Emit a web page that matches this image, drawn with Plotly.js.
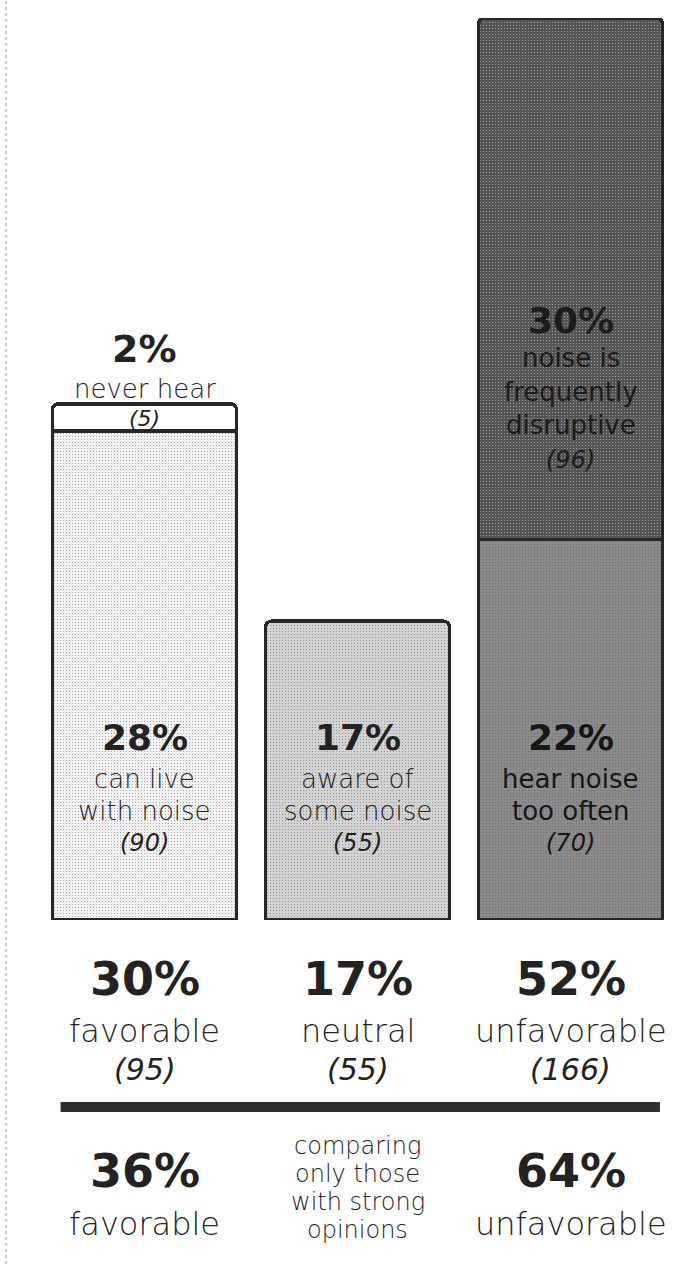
<!DOCTYPE html>
<html>
<head>
<meta charset="utf-8">
<script src="https://cdn.plot.ly/plotly-3.0.1.min.js"></script>
<style>html,body{margin:0;padding:0;background:#fff;}#chart{width:699px;height:1264px;}</style>
</head>
<body>
<div id="chart"></div>
<script>
// ---- data ----
const groups = [0, 1, 2];
const groupNames = ['favorable', 'neutral', 'unfavorable'];
const baseCounts = [90, 55, 70];
const topCounts = [5, null, 96];
const basePct = ['28%', '17%', '22%'];
const baseText = [['can live', 'with noise'], ['aware of', 'some noise'], ['hear noise', 'too often']];
const topPct = ['2%', null, '30%'];
const topText = [['never hear'], null, ['noise is', 'frequently', 'disruptive']];
const totalPct = ['30%', '17%', '52%'];
const totalCounts = [95, 55, 166];
const strongPct = ['36%', '64%'];
const strongNames = ['favorable', 'unfavorable'];
const strongNote = ['comparing', 'only those', 'with strong', 'opinions'];

// ---- styles ----
const baseColors = ['#f2f2f2', '#d3d3d3', '#8b8b8b'];
const topColors = ['#ffffff', '#d3d3d3', '#545454'];
const edge = '#272727';
const FONT = 'DejaVu Sans, Verdana, sans-serif';
const ink = '#222222';

const H = 1264, T = 18, B = 344;
const plotH = H - T - B;
const yMax = 166;
const pp = p => (H - B - p) / plotH; // pixel row -> paper fraction (for text placement)

const traces = [
  {
    type: 'bar', x: groups, y: baseCounts,
    marker: {color: baseColors, line: {color: edge, width: 3.5},
             pattern: {shape: '.', size: 3, solidity: 0.12, fgcolor: '#9a9a9a', fillmode: 'overlay'}},
    hoverinfo: 'none', cliponaxis: false
  },
  {
    type: 'bar', x: groups, y: topCounts,
    marker: {color: topColors, line: {color: edge, width: 3.5},
             pattern: {shape: ['', '', '.'], size: 3, solidity: 0.12, fgcolor: '#3a3a3a', fillmode: 'overlay'}},
    hoverinfo: 'none', cliponaxis: false
  }
];

const ann = [];
function txt(x, p, text, size, opts) {
  opts = opts || {};
  ann.push({
    x: x, y: pp(p), xref: 'x', yref: 'paper', text: text, showarrow: false,
    xanchor: 'center', yanchor: 'middle',
    font: {family: FONT, size: size, color: opts.color || ink,
           weight: opts.weight || 300, style: opts.style || 'normal'}
  });
}

// inside base segments
for (let i = 0; i < 3; i++) {
  const c = i === 2 ? '#161616' : ink;
  const w = i === 2 ? 400 : 300;
  txt(groups[i], 737, basePct[i], 36, {weight: 'bold', color: c});
  txt(groups[i], 779, baseText[i][0], 26, {color: c, weight: w});
  txt(groups[i], 811, baseText[i][1], 26, {color: c, weight: w});
  txt(groups[i], 843, '(' + baseCounts[i] + ')', 24, {style: 'italic', color: c});
}
// left top segment
txt(groups[0], 349, topPct[0], 38, {weight: 'bold'});
txt(groups[0], 389, topText[0][0], 26);
txt(groups[0], 418, '(' + topCounts[0] + ')', 22, {style: 'italic'});
// right top segment
const dk = '#1c1c1c';
txt(groups[2], 320, topPct[2], 36, {weight: 'bold', color: dk});
txt(groups[2], 358, topText[2][0], 26, {color: dk, weight: 400});
txt(groups[2], 392, topText[2][1], 26, {color: dk, weight: 400});
txt(groups[2], 425, topText[2][2], 26, {color: dk, weight: 400});
txt(groups[2], 460, '(' + topCounts[2] + ')', 24, {style: 'italic', color: dk});

// totals below
for (let i = 0; i < 3; i++) {
  txt(groups[i], 979, totalPct[i], 46, {weight: 'bold'});
  txt(groups[i], 1031, groupNames[i], 32);
  txt(groups[i], 1069, '(' + totalCounts[i] + ')', 30, {style: 'italic'});
}
// strong opinions row
txt(groups[0], 1171, strongPct[0], 46, {weight: 'bold'});
txt(groups[0], 1224, strongNames[0], 32);
txt(groups[2], 1171, strongPct[1], 46, {weight: 'bold'});
txt(groups[2], 1224, strongNames[1], 32);
const notePix = [1146, 1174, 1202, 1230];
strongNote.forEach((s, k) => txt(groups[1], notePix[k], s, 24));

const layout = {
  width: 699, height: H,
  margin: {l: 38, r: 22, t: T, b: B, pad: 0},
  paper_bgcolor: '#ffffff', plot_bgcolor: '#ffffff',
  barmode: 'stack', bargap: 0.136, barcornerradius: 6,
  showlegend: false,
  xaxis: {range: [-0.5, 2.5], visible: false, fixedrange: true},
  yaxis: {range: [0, yMax], visible: false, fixedrange: true},
  annotations: ann,
  shapes: [
    {type: 'line', xref: 'x', yref: 'paper', x0: -0.394, x1: 2.42, y0: pp(1107), y1: pp(1107),
     line: {color: '#303030', width: 10}},
    {type: 'line', xref: 'paper', yref: 'paper', x0: -32/639, x1: -32/639, y0: -B/plotH, y1: 1 + T/plotH,
     line: {color: '#bdbdbd', width: 1.5, dash: 'dot'}}
  ]
};

Plotly.newPlot('chart', traces, layout, {displayModeBar: false, staticPlot: true});
</script>
</body>
</html>
